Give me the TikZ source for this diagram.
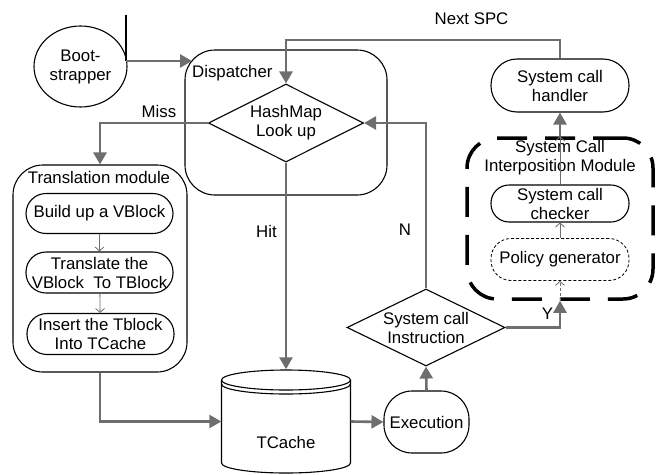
\documentclass[tikz,border=0pt]{standalone}
\usepackage{fontspec}
\setmainfont{Liberation Sans}
\usetikzlibrary{shapes.geometric,arrows.meta}

\definecolor{flowgray}{RGB}{110,110,110}

\begin{document}
\begin{tikzpicture}[x=1pt, y=-1pt, font=\fontsize{16.8}{19}\selectfont,
    outline/.style={draw=black, line width=1.1pt},
    pill/.style={outline, rectangle, inner sep=0pt, align=center, minimum width=138pt},
    decision/.style={outline, diamond, aspect=2, inner sep=0pt, align=center},
    frame/.style={outline, rectangle, rounded corners=30pt},
    flow/.style={draw=flowgray, line width=2.6pt, -{Triangle[length=12pt,width=13pt]}},
    subflow/.style={draw=flowgray, line width=0.8pt, -{Straight Barb[length=4pt,width=9pt]}}]
    \useasboundingbox (0,0) rectangle (661,474);

    \node[outline, ellipse, minimum width=93pt, minimum height=81pt, inner sep=0pt, align=center] (boot) at (80.5,66.5) {Boot-\\strapper};
    \coordinate (bstub) at (126,15);
    \coordinate (bjoin) at (126,61);
    \coordinate (dispin) at (192,61);

    \node[frame, minimum width=202pt, minimum height=145pt] (disp) at (286,122.5) {};
    \node[anchor=base west, inner sep=0pt] (displbl) at (192,77) {Dispatcher};
    \node[decision, minimum width=155pt, minimum height=78pt] (hash) at (286,123) {HashMap\\Look up};

    \node[frame, minimum width=174pt, minimum height=207pt] (trans) at (100,268.5) {};
    \node[anchor=base, inner sep=0pt] (translbl) at (99,183) {Translation module};
    \node[pill, minimum width=147pt, minimum height=40pt, rounded corners=20pt] (build) at (99.5,213.5) {Build up a VBlock};
    \node[pill, minimum width=147pt, minimum height=41pt, rounded corners=20pt] (translate) at (99.5,272.5) {Translate the\\VBlock\ \ To TBlock};
    \node[pill, minimum width=147pt, minimum height=41pt, rounded corners=20pt] (insert) at (100.5,334) {Insert the Tblock\\Into TCache};

    \node[pill, minimum height=53pt, rounded corners=26pt] (handler) at (560,85.5) {System call\\handler};
    \node[draw=black, line width=3.5pt, dash pattern=on 30pt off 18pt, rounded corners=30pt, minimum width=186pt, minimum height=161pt] (sim) at (560,218.5) {};
    \node[align=center, inner sep=0pt] (simlbl) at (560,158) {System Call\\Interposition Module};
    \node[pill, minimum height=37pt, rounded corners=18pt] (checker) at (560,203.5) {System call\\checker};
    \node[pill, line width=0.8pt, dash pattern=on 3pt off 2pt, minimum height=42pt, rounded corners=20pt] (policy) at (560,259.5) {Policy generator};

    \node[decision, minimum width=158pt, minimum height=77pt] (sysinst) at (426,327.5) {System call\\Instruction};
    \node[pill, minimum width=85pt, minimum height=62pt, rounded corners=28pt] (exec) at (426.5,422) {Execution};

    \node[minimum width=129pt, minimum height=104pt] (tcache) at (286,421.5) {};
    \draw[outline] (286,380) ellipse [x radius=64.5pt, y radius=10pt];
    \draw[outline] (221.5,384) arc[start angle=180, end angle=360, x radius=64.5pt, y radius=10pt];
    \draw[outline] (221.5,380) -- (221.5,463) arc[start angle=180, end angle=360, x radius=64.5pt, y radius=10pt] -- (350.5,380);
    \node (tcachelbl) at (286,442) {TCache};

    \coordinate (spc) at (286,40);
    \node (nextlbl) at (471.5,19) {Next SPC};
    \node (misslbl) at (159,111) {Miss};
    \node (hitlbl) at (266.5,231) {Hit};
    \node (nlbl) at (405,230) {N};
    \node (ylbl) at (547.5,313.5) {Y};

    \draw[outline] (bstub) -- (bjoin);
    \draw[flow] (bjoin) -- (dispin);
    \draw[flow] (handler.north) |- (spc) -- (hash.north);
    \draw[flow] (hash.west) -| (trans.north);
    \draw[flow] (hash.south) -- (tcache.north);
    \draw[flow] (trans.south) |- (tcache.west);
    \draw[flow] (tcache.east) -- (exec.west);
    \draw[flow] (exec.north) -- (sysinst.south);
    \draw[flow] (sysinst.north) |- (hash.east);
    \draw[flow] (sysinst.east) -| (sim.south);
    \draw[flow] (sim.north) -- (handler.south);
    \draw[subflow] (build) -- (translate);
    \draw[subflow] (translate) -- (insert);
    \draw[subflow] (checker) -- (sim.north);
    \draw[subflow] (policy) -- (checker);
    \draw[subflow, dash pattern=on 3pt off 2pt] (sim.south) -- (policy);
\end{tikzpicture}
\end{document}
